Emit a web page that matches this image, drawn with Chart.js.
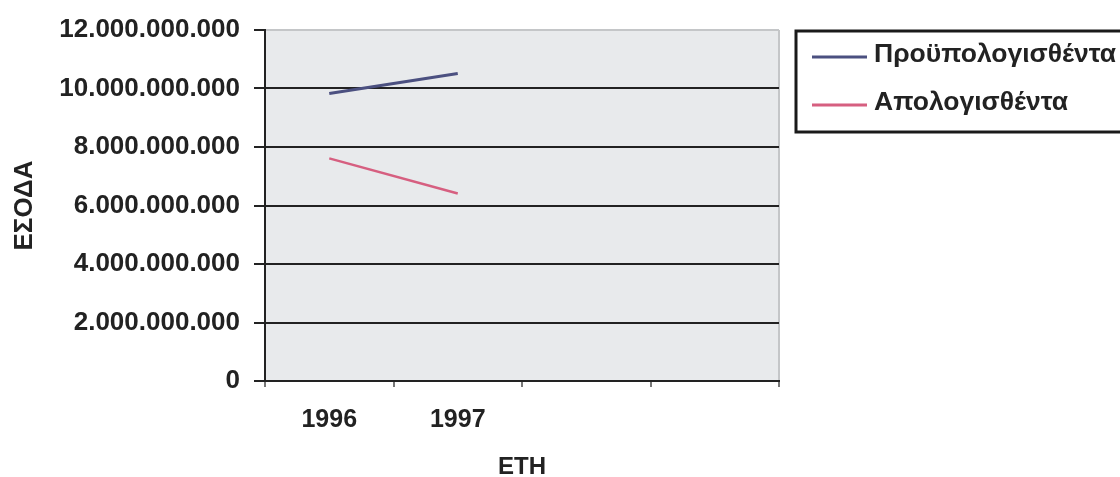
<!DOCTYPE html>
<html>
<head>
<meta charset="utf-8">
<script src="https://cdn.jsdelivr.net/npm/chart.js@4"></script>
<style>
html,body{margin:0;padding:0;background:#fff;}
#wrap{width:1120px;height:477px;}
</style>
</head>
<body>
<div id="wrap"><canvas id="c" width="1120" height="477"></canvas></div>
<script>
const categories = ['1996', '1997', '', ''];
const budgeted = [9.83e9, 10.51e9, null, null];
const actual = [7.61e9, 6.41e9, null, null];
const seriesNames = ['Προϋπολογισθέντα', 'Απολογισθέντα'];
const yTicks = [0, 2e9, 4e9, 6e9, 8e9, 10e9, 12e9];
const yTitle = 'ΕΣΟΔΑ';
const xTitle = 'ETH';

const FONT = "'Liberation Sans', Arial, sans-serif";
const fmt = v => String(Math.round(v)).replace(/\B(?=(\d{3})+(?!\d))/g, '.');

const bgPlugin = {
  id: 'plotBg',
  beforeDraw(chart) {
    const {ctx, chartArea: a} = chart;
    ctx.save();
    ctx.fillStyle = '#e8eaec';
    ctx.fillRect(a.left, a.top, a.right - a.left, a.bottom - a.top);
    ctx.strokeStyle = '#c4c6c8';
    ctx.lineWidth = 2;
    ctx.beginPath();
    ctx.moveTo(a.right, a.top);
    ctx.lineTo(a.right, a.bottom);
    ctx.stroke();
    ctx.restore();
  }
};

const legendPlugin = {
  id: 'boxLegend',
  afterDraw(chart) {
    const {ctx} = chart;
    ctx.save();
    ctx.strokeStyle = '#1a1a1a';
    ctx.lineWidth = 3;
    ctx.strokeRect(796, 31, 340, 101);
    const ys = [55, 103];
    chart.data.datasets.forEach((ds, i) => {
      ctx.strokeStyle = ds.borderColor;
      ctx.lineWidth = 3;
      ctx.beginPath();
      ctx.moveTo(812, ys[i] + 2);
      ctx.lineTo(867, ys[i] + 2);
      ctx.stroke();
      ctx.fillStyle = '#222';
      ctx.font = 'bold 26.5px ' + FONT;
      ctx.textAlign = 'left';
      ctx.textBaseline = 'middle';
      ctx.fillText(ds.label, 874, ys[i]);
    });
    ctx.restore();
  }
};

new Chart(document.getElementById('c'), {
  type: 'line',
  data: {
    labels: categories,
    datasets: [
      {label: seriesNames[0], data: budgeted, borderColor: '#4b5080', borderWidth: 3, pointRadius: 0, tension: 0, spanGaps: false},
      {label: seriesNames[1], data: actual, borderColor: '#d65f80', borderWidth: 2.5, pointRadius: 0, tension: 0, spanGaps: false}
    ]
  },
  options: {
    responsive: false,
    animation: false,
    events: [],
    layout: {padding: {top: 30, right: 341, bottom: 0, left: 0}},
    plugins: {legend: {display: false}, tooltip: {enabled: false}},
    scales: {
      x: {
        type: 'category',
        offset: true,
        afterFit(s) { s.height = 96; },
        grid: {offset: true, drawOnChartArea: false, drawTicks: true, tickLength: 6, color: '#777', lineWidth: 2},
        border: {display: true, color: '#222', width: 2},
        ticks: {color: '#222', padding: 18, maxRotation: 0, autoSkip: false, font: {family: FONT, size: 25, weight: 'bold'}},
        title: {display: true, text: xTitle, color: '#222', padding: 0, font: {family: FONT, size: 24, weight: 'bold', lineHeight: 0.8}}
      },
      y: {
        min: 0,
        max: 12e9,
        afterFit(s) { s.width = 265; },
        afterBuildTicks(s) { s.ticks = yTicks.map(v => ({value: v})); },
        grid: {
          color: c => (c.tick && c.tick.value === 12e9) ? '#c4c6c8' : '#222',
          tickColor: '#222',
          lineWidth: 2,
          tickLength: 11
        },
        border: {display: true, color: '#222', width: 2},
        ticks: {color: '#222', padding: 14, callback: v => fmt(v), font: {family: FONT, size: 26, weight: 'bold'}},
        title: {display: true, text: yTitle, color: '#222', padding: {top: 12, bottom: 0}, font: {family: FONT, size: 26, weight: 'bold', lineHeight: 1}}
      }
    }
  },
  plugins: [bgPlugin, legendPlugin]
});
</script>
</body>
</html>
